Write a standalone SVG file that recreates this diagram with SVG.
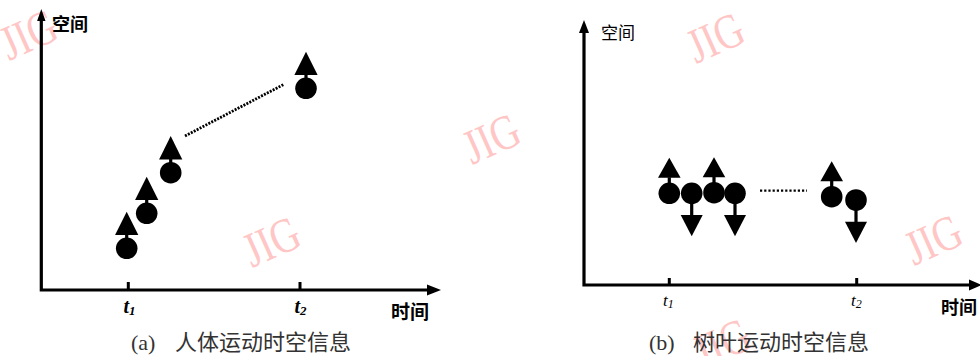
<svg xmlns="http://www.w3.org/2000/svg" width="980" height="356" viewBox="0 0 980 356">
<style>
.wm{font-family:"Liberation Serif",serif;font-size:49px;fill:#ffc6c6}
.ax{stroke:#000;stroke-width:3.2;fill:none}
.tick{stroke:#000;stroke-width:3;fill:none}
.ah{fill:#000}
.dot{stroke:#000;stroke-width:2.8;fill:none;stroke-dasharray:2 1.3}
.cjkb{font-family:"Noto Sans CJK SC","Noto Sans",sans-serif;font-weight:bold;fill:#000}
.cjk{font-family:"Noto Sans CJK SC","Noto Sans",sans-serif;fill:#000}
.tl{font-family:"Liberation Serif",serif;font-style:italic;fill:#000}
.cap{font-family:"Liberation Serif","Noto Sans CJK SC",serif;font-size:22px;fill:#333}
.capc{font-family:"Noto Sans CJK SC",sans-serif;font-size:22px;fill:#333}
</style>
<defs>
<g id="pa">
<circle cx="0" cy="0" r="10.8" fill="#000"/>
<path d="M0,-36.6 L11.6,-13.3 L-11.6,-13.3 Z" fill="#000"/>
<rect x="-1.6" y="-14" width="3.2" height="5" fill="#000"/>
</g>
<g id="bu">
<circle cx="0" cy="0" r="10.8" fill="#000"/>
<path d="M0,-35.5 L11.3,-15.5 L-11.3,-15.5 Z" fill="#000"/>
<rect x="-1.6" y="-16" width="3.2" height="7" fill="#000"/>
</g>
<g id="bd">
<circle cx="0" cy="0" r="10.8" fill="#000"/>
<path d="M-11,21.7 L11,21.7 L0,43 Z" fill="#000"/>
<rect x="-1.6" y="9" width="3.2" height="13.5" fill="#000"/>
</g>
</defs>
<rect width="980" height="356" fill="#fff"/>
<g id="watermarks">
<text class="wm" transform="translate(9,61) rotate(-24)" textLength="57" lengthAdjust="spacingAndGlyphs">JIG</text>
<text class="wm" transform="translate(472,165) rotate(-24)" textLength="57" lengthAdjust="spacingAndGlyphs">JIG</text>
<text class="wm" transform="translate(696,64) rotate(-24)" textLength="57" lengthAdjust="spacingAndGlyphs">JIG</text>
<text class="wm" transform="translate(252,268) rotate(-24)" textLength="57" lengthAdjust="spacingAndGlyphs">JIG</text>
<text class="wm" transform="translate(914,266) rotate(-24)" textLength="57" lengthAdjust="spacingAndGlyphs">JIG</text>
<text class="wm" transform="translate(702,370) rotate(-24)" textLength="57" lengthAdjust="spacingAndGlyphs">JIG</text>
</g>
<g id="axes-a">
<path class="ax" d="M41.3,18 V290 H430"/>
<path class="ah" d="M41.3,9 L45.5,21 L37.1,21 Z"/>
<path class="ah" d="M441,290 L427,284.5 L427,295.5 Z"/>
<path class="tick" d="M128.3,282 V290 M300,282 V290"/>
</g>
<g id="axes-b">
<path class="ax" d="M584,30 V285 H972"/>
<path class="ah" d="M584,20 L589,33 L579,33 Z"/>
<path class="ah" d="M982,285 L969,279.5 L969,290.5 Z"/>
<path class="tick" d="M669.3,278 V285 M856.7,278 V285"/>
</g>
<g id="connectors">
<path class="dot" d="M185,136 L284,84.3"/>
<path class="dot" d="M760,190.7 L807,190.7" style="stroke-width:2.2;stroke-dasharray:2.2 2"/>
</g>
<g id="node-a1"><use href="#pa" x="126.7" y="248.3"/></g>
<g id="node-a2"><use href="#pa" x="146.7" y="213.3"/></g>
<g id="node-a3"><use href="#pa" x="170.7" y="172.7"/></g>
<g id="node-a4"><use href="#pa" x="306" y="88.3"/></g>
<g id="node-b1"><use href="#bu" x="669.3" y="193.3"/></g>
<g id="node-b2"><use href="#bd" x="691.7" y="193.3"/></g>
<g id="node-b3"><use href="#bu" x="714" y="192.7"/></g>
<g id="node-b4"><use href="#bd" x="735" y="193.3"/></g>
<g id="node-b5"><use href="#bu" x="831.7" y="196.7"/></g>
<g id="node-b6"><use href="#bd" x="856" y="200"/></g>
<g id="labels-a">
<text class="cjkb" x="52" y="31" font-size="18">空间</text>
<text class="cjkb" x="391" y="319" font-size="19">时间</text>
<text class="tl" x="123.5" y="313" font-size="20" font-weight="bold">t<tspan font-size="13" dy="2">1</tspan></text>
<text class="tl" x="294.5" y="313" font-size="20" font-weight="bold">t<tspan font-size="13" dy="2">2</tspan></text>
</g>
<g id="labels-b">
<text class="cjk" x="601" y="39" font-size="17">空间</text>
<text class="cjkb" x="941" y="314" font-size="18">时间</text>
<text class="tl" x="663" y="306" font-size="17">t<tspan font-size="12" dy="1.5">1</tspan></text>
<text class="tl" x="851" y="306" font-size="17">t<tspan font-size="12" dy="1.5">2</tspan></text>
</g>
<g id="captions">
<text class="cap" x="131" y="350">(a)</text>
<text class="capc" x="175" y="350">人体运动时空信息</text>
<text class="cap" x="649" y="350">(b)</text>
<text class="capc" x="693" y="350">树叶运动时空信息</text>
</g>
</svg>
